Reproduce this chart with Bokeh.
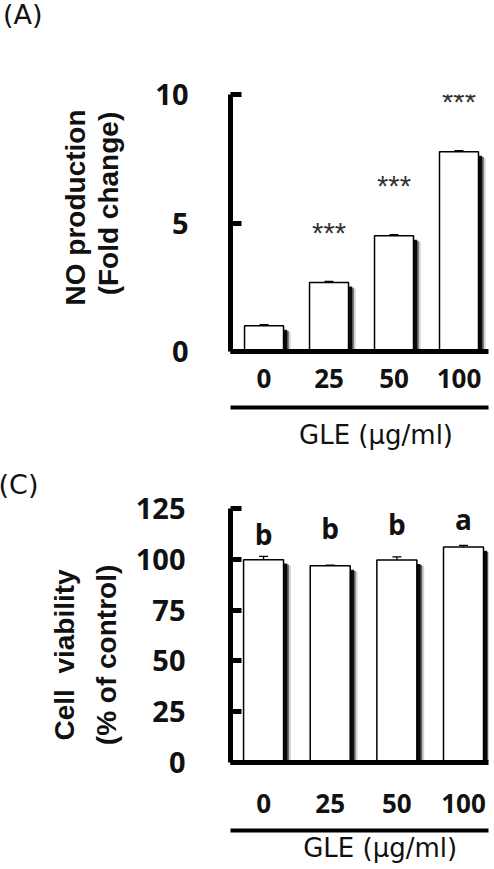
from bokeh.plotting import figure
from bokeh.models import (Range1d, FixedTicker, LinearAxis, ColumnDataSource,
                          Whisker, TeeHead, Div)
from bokeh.layouts import column
from bokeh.transform import dodge
from bokeh.core.properties import value
from bokeh.embed import file_html
from bokeh.resources import INLINE

# ---------------- data ----------------
doses = ["0", "25", "50", "100"]

no_fold = [1.0, 2.68, 4.5, 7.77]
no_err = [0.04, 0.05, 0.05, 0.05]
no_sig = ["", "***", "***", "***"]

viability = [99.8, 96.8, 99.6, 106.1]
via_err = [1.6, 0.3, 1.6, 0.8]
via_letters = ["b", "b", "b", "a"]
via_letter_y = [112.5, 115.4, 117.4, 119.9]

NUM_FONT = "Open Sans"
TITLE_FONT = "Liberation Sans"
TXT_FONT = "DejaVu Sans"
NB = "\u00a0"


def make_panel(vals, errs, yticks, y_end, tag, ytitle1, ytitle2, height,
               x_range, frame_left, border_top, border_bottom, border_right,
               ylab_standoff, xlab_standoff, gap_label, gle_standoff, gle_pad,
               title_standoffs, tag_standoff):
    idx = list(range(len(doses)))
    src = ColumnDataSource(dict(x=idx, top=vals, upper=[v + e for v, e in zip(vals, errs)]))
    p = figure(width=494, height=height, output_backend="svg", toolbar_location=None,
               x_range=Range1d(*x_range), y_range=Range1d(0, y_end),
               min_border_left=frame_left, min_border_right=border_right,
               min_border_top=border_top, min_border_bottom=border_bottom)
    p.outline_line_color = None
    p.xgrid.visible = False
    p.ygrid.visible = False
    p.background_fill_color = "white"
    p.border_fill_color = "white"

    if tag:
        p.title.text = tag
        p.title.align = "left"
        p.title.vertical_align = "top"
        p.title.offset = -frame_left - 2
        p.title.standoff = tag_standoff
        p.title.text_font = TXT_FONT
        p.title.text_font_style = "normal"
        p.title.text_font_size = "27px"
        p.title.text_color = "#111111"

    unit = y_end / 260.0
    # blurred drop shadow
    p.vbar(x=dodge("x", 0.11), top=dodge("top", -6 * unit), width=0.6, bottom=0,
           fill_color="black", fill_alpha=0.18, line_color=None, source=src)
    p.vbar(x=dodge("x", 0.08), top=dodge("top", -5 * unit), width=0.6, bottom=0,
           fill_color="black", fill_alpha=0.55, line_color=None, source=src)
    p.vbar(x=dodge("x", 0.055), top=dodge("top", -4 * unit), width=0.6, bottom=0,
           fill_color="black", fill_alpha=0.9, line_color=None, source=src)
    p.vbar(x="x", top="top", width=0.6, bottom=0, fill_color="white",
           line_color="black", line_width=1.5, source=src)
    w = Whisker(source=src, base="x", upper="upper", lower="top", dimension="height",
                line_width=1.3, upper_head=TeeHead(size=9, line_width=1.3), lower_head=None,
                level="glyph")
    p.add_layout(w)

    # y axis
    ya = p.yaxis[0]
    ya.ticker = FixedTicker(ticks=yticks)
    ya.axis_line_width = 5
    ya.major_tick_in = 11
    ya.major_tick_out = 0
    ya.major_tick_line_width = 5
    ya.minor_tick_line_color = None
    ya.major_label_standoff = ylab_standoff
    ya.major_label_text_font = NUM_FONT
    ya.major_label_text_font_style = "bold"
    ya.major_label_text_font_size = "29px"
    ya.major_label_text_color = "#111111"
    ya.axis_label = ytitle2
    ya.axis_label_standoff = title_standoffs[0]
    ya.axis_label_text_font = TITLE_FONT
    ya.axis_label_text_font_style = "bold"
    ya.axis_label_text_font_size = "28px"
    ya.axis_label_text_color = "#111111"

    ya2 = LinearAxis(ticker=FixedTicker(ticks=[]), axis_line_color=None,
                     major_tick_line_color=None, minor_tick_line_color=None,
                     major_tick_in=0, major_tick_out=0, minor_tick_in=0, minor_tick_out=0,
                     major_label_standoff=0, major_label_text_font_size="0px",
                     axis_label=ytitle1, axis_label_standoff=title_standoffs[1],
                     axis_label_text_font=TITLE_FONT, axis_label_text_font_style="bold",
                     axis_label_text_font_size="28px", axis_label_text_color="#111111")
    p.add_layout(ya2, "left")

    # x axis (dose labels)
    xa = p.xaxis[0]
    xa.ticker = FixedTicker(ticks=idx)
    xa.major_label_overrides = {i: d for i, d in zip(idx, doses)}
    xa.axis_line_width = 5
    xa.major_tick_line_color = None
    xa.minor_tick_line_color = None
    xa.major_tick_in = 0
    xa.major_tick_out = 0
    xa.major_label_standoff = xlab_standoff
    xa.major_label_text_font = NUM_FONT
    xa.major_label_text_font_style = "bold"
    xa.major_label_text_font_size = "26px"
    xa.major_label_text_color = "#111111"
    xa.axis_label = " "
    xa.axis_label_text_font_size = "%dpx" % gap_label
    xa.axis_label_standoff = 0

    # underline + GLE label
    ax2 = LinearAxis(ticker=FixedTicker(ticks=[]), axis_line_width=4,
                     major_tick_line_color=None, minor_tick_line_color=None,
                     major_tick_in=0, major_tick_out=0, minor_tick_in=0, minor_tick_out=0,
                     major_label_text_font_size="0px", major_label_standoff=0,
                     axis_label=NB * gle_pad + "GLE (μg/ml)", axis_label_standoff=gle_standoff,
                     axis_label_text_font=TXT_FONT, axis_label_text_font_style="normal",
                     axis_label_text_font_size="26px", axis_label_text_color="#111111")
    p.add_layout(ax2, "below")
    return p, src


# strip holding the "(A)" panel tag
TAG_H = 40
tagA = Div(text="(A)", width=494, height=TAG_H, margin=0,
           styles={"font-family": TXT_FONT, "font-size": "27px", "color": "#111111",
                   "padding-left": "3px", "line-height": "29px", "box-sizing": "border-box"})

pA, srcA = make_panel(no_fold, no_err, [0, 5, 10], 10, None,
                      NB * 4 + "NO production", NB * 5 + "(Fold change)",
                      452 - TAG_H, (-0.516, 3.454), 224, 94 - TAG_H, 98, 6,
                      42, 17, 12, 12, 4, (28, 0), 0)
srcA.data["sig"] = no_sig
srcA.data["sig_y"] = [v + 2.0 for v in no_fold]
pA.text(x="x", y="sig_y", text="sig", source=srcA, text_align="center",
        text_baseline="alphabetic", y_offset=2, text_font=value("Liberation Sans"),
        text_font_size="29px", text_color="#333333")

pC, srcC = make_panel(viability, via_err, [0, 25, 50, 75, 100, 125], 125, "(C)",
                      "Cell" + NB + " viability" + NB * 5, "(% of control)" + NB * 5,
                      417, (-0.496, 3.375), 230, 56, 107, 0,
                      45, 31, 11, 2, 5, (11, 8), 13)
srcC.data["lab"] = via_letters
srcC.data["lab_y"] = via_letter_y
pC.text(x="x", y="lab_y", text="lab", source=srcC, text_align="center",
        text_baseline="alphabetic", text_font=value(NUM_FONT), text_font_style="bold",
        text_font_size="28px", text_color="#111111")

layout = column(tagA, pA, pC, spacing=0)
open("out.html", "w").write(file_html(layout, INLINE))
